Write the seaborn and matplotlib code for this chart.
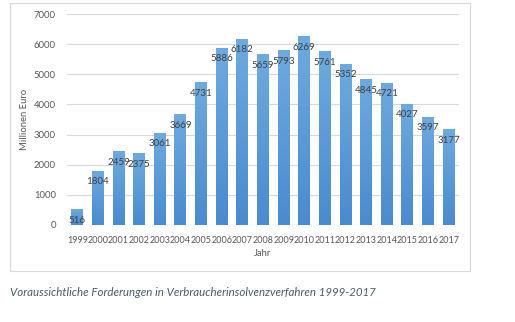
import matplotlib
matplotlib.use("Agg")
import matplotlib.pyplot as plt
import matplotlib.patches as mpatches
from matplotlib.colors import LinearSegmentedColormap
import numpy as np
import pandas as pd
import seaborn as sns

years = [str(y) for y in range(1999, 2018)]
values = [516, 1804, 2459, 2375, 3061, 3669, 4731, 5886, 6182, 5659,
          5793, 6269, 5761, 5352, 4845, 4721, 4027, 3597, 3177]
y_ticks = [0, 1000, 2000, 3000, 4000, 5000, 6000, 7000]
y_label = "Millionen Euro"
x_label = "Jahr"
caption = "Voraussichtliche Forderungen in Verbraucherinsolvenzverfahren 1999-2017"

sns.set_theme(style="white")
plt.rcParams['font.family'] = ['Lato', 'DejaVu Sans']

W, H = 515, 322
fig = plt.figure(figsize=(W / 100, H / 100), dpi=100)
fig.patch.set_facecolor("white")

# outer frame
frame = mpatches.Rectangle((10 / W, 1 - 271 / H), 460 / W, 268 / H,
                           transform=fig.transFigure, fill=False,
                           edgecolor="#d9d9d9", linewidth=0.8)
fig.patches.append(frame)

ax = fig.add_axes([67 / W, 1 - 225 / H, 392 / W, 211 / H])
df = pd.DataFrame({"Jahr": years, "Wert": values})
sns.barplot(data=df, x="Jahr", y="Wert", color="#5b9bd5", width=0.58,
            ax=ax, saturation=1)

ax.set_ylim(0, 7000)
ax.set_xlim(-0.5, len(years) - 0.5)
ax.set_yticks(y_ticks)
ax.set_yticklabels([str(t) for t in y_ticks])
ax.grid(axis="y", color="#d9d9d9", linewidth=0.8)
ax.set_axisbelow(True)
for s in ax.spines.values():
    s.set_visible(False)
ax.tick_params(axis="both", length=0, labelsize=6.8, colors="#595959")
ax.tick_params(axis="y", pad=8)
ax.tick_params(axis="x", pad=8, labelsize=6.5)
ax.set_xlabel(x_label, fontsize=6.8, color="#595959", labelpad=3)
ax.set_ylabel(y_label, fontsize=6.8, color="#595959")
ax.yaxis.set_label_coords(-0.097, 0.5)

# gradient fill on bars
grad = np.linspace(0, 1, 100).reshape(-1, 1)
cmap = LinearSegmentedColormap.from_list("g", ["#4a8bcf", "#6eaade"])
for p, v in zip(ax.patches, values):
    x0 = p.get_x()
    w = p.get_width()
    h = p.get_height()
    p.set_facecolor("none")
    p.set_edgecolor("none")
    im = ax.imshow(grad, extent=[x0, x0 + w, 0, h], origin="lower",
                   aspect="auto", cmap=cmap, zorder=2)
    im.set_clip_path(p)
    ax.text(x0 + w / 2, v - 370, str(v), ha="center", va="center",
            fontsize=7, color="#404040", zorder=3)

ax.set_xlim(-0.5, len(years) - 0.5)
ax.set_ylim(0, 7000)

fig.text(10 / W, 1 - 292 / H, caption, fontsize=8.3, style="italic",
         color="#4d5b6e", ha="left", va="center")

fig.savefig("out.png", dpi=100)
